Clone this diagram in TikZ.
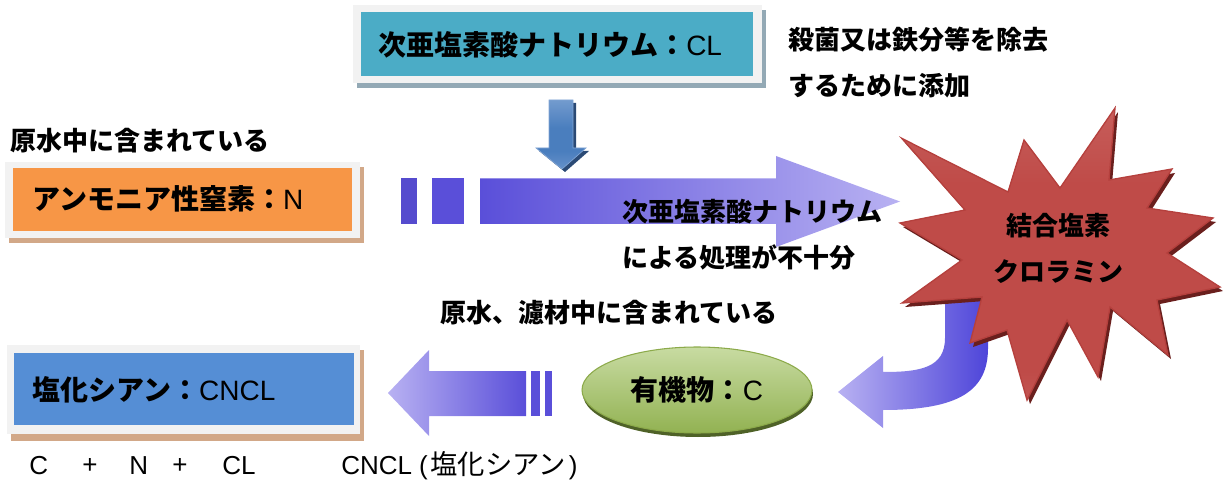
\documentclass[tikz,border=0pt]{standalone}
\usepackage{fontspec}
\setmainfont{Liberation Sans}
\newfontfamily\jp{Noto Sans CJK JP}
\usetikzlibrary{shapes.geometric}
\definecolor{frameC}{HTML}{F2F2F2}
\definecolor{tealC}{HTML}{4BACC6}
\definecolor{orangeC}{HTML}{F79646}
\definecolor{blueC}{HTML}{558ED5}
\definecolor{shadowA}{HTML}{93A9B5}
\definecolor{shadowB}{HTML}{D2A888}
\definecolor{vioD}{HTML}{5A4FD9}
\definecolor{vioL}{HTML}{B8B1F2}
\definecolor{vioM}{HTML}{4E45D9}
\definecolor{dnTop}{HTML}{A6BFE2}
\definecolor{dnMid}{HTML}{4A7EBE}
\definecolor{dnBot}{HTML}{9AB5DE}
\definecolor{dnShadow}{HTML}{2B4A75}
\definecolor{starTop}{HTML}{D6817E}
\definecolor{starMid}{HTML}{BF4B48}
\definecolor{starBot}{HTML}{D48582}
\definecolor{starEdge}{HTML}{B5403D}
\definecolor{starShadow}{HTML}{6A1F1D}
\definecolor{grTop}{HTML}{C8DBA2}
\definecolor{grBot}{HTML}{92B252}
\definecolor{grEdge}{HTML}{8CAA4A}
\definecolor{grShadow}{HTML}{4F6228}
\pgfdeclareverticalshading{starshade}{100bp}{color(0bp)=(starBot); color(30bp)=(starMid); color(62bp)=(starMid); color(100bp)=(starTop)}
\pgfdeclareverticalshading{downshade}{100bp}{color(0bp)=(dnBot); color(38bp)=(dnMid); color(55bp)=(dnMid); color(100bp)=(dnTop)}
\newcommand\jb[1]{{\jp\bfseries #1}}
\newcommand\jr[1]{{\jp #1}}
\newcommand\fsBox{\fontsize{21}{25}\selectfont}
\newcommand\fsLbl{\fontsize{19.5}{24}\selectfont}
\tikzset{
  lbl/.style={inner sep=0pt, anchor=west, font=\fsLbl},
  boxlbl/.style={inner sep=0pt, anchor=west, font=\fsBox},
}
\begin{document}
\begin{tikzpicture}[x=0.75pt,y=-0.75pt]
\useasboundingbox (0,0) rectangle (1223,484);

% ---- top box
\fill[shadowA] (357,10) rectangle (766,88);
\fill[frameC] (353,5) rectangle (762,83);
\fill[tealC] (361,12) rectangle (753,76);
\node[boxlbl] (topt) at (378,45) {\jb{次亜塩素酸ナトリウム：}CL};

\node[lbl] (purp1) at (788,40) {\jb{殺菌又は鉄分等を除去}};
\node[lbl] (purp2) at (788,86) {\jb{するために添加}};

% ---- down arrow
\fill[dnShadow] (552,103) -- (576,103) -- (576,151) -- (589,151) -- (565,172) -- (539,151) -- (552,151) -- cycle;
\shade[shading=downshade, draw=dnTop!60!dnMid, line width=0.5pt]
  (549,100) -- (573,100) -- (573,148) -- (586,148) -- (562,169) -- (536,148) -- (549,148) -- cycle;

% ---- left label + orange box
\node[lbl] (raw1) at (10,141) {\jb{原水中に含まれている}};
\fill[shadowB] (9,167) rectangle (364,243);
\fill[frameC] (5,162) rectangle (360,238);
\fill[orangeC] (13,168) rectangle (352,231);
\node[boxlbl] (ammo) at (32,199) {\jb{アンモニア性窒素：}N};

% ---- big right arrow
\fill[vioD!95!black] (401,178.5) rectangle (416.5,224);
\fill[vioD] (432,178.5) rectangle (464,224);
\shade[left color=vioD, right color=vioL]
  (480,178.5) -- (776,178.5) -- (776,156) -- (900,201.5) -- (776,247) -- (776,224) -- (480,224) -- cycle;
\node[lbl] (mid1) at (622,212) {\jb{次亜塩素酸ナトリウム}};
\node[lbl] (mid2) at (622,257) {\jb{による処理が不十分}};

% ---- J arrow
\shade[left color=vioL, right color=vioM]
  (945,300) -- (945,338) .. controls (945,368) and (920,372) .. (883,372) -- (883,356) -- (838,392)
  -- (883,428) -- (883,410) .. controls (960,410) and (988,390) .. (988,348) -- (988,300) -- cycle;

% ---- star
\fill[starShadow] ([shift={(3,4)}]901.7,138.3) -- ([shift={(3,4)}]1008,192) -- ([shift={(3,4)}]1024,140)
  -- ([shift={(3,4)}]1060,188) -- ([shift={(3,4)}]1115,108) -- ([shift={(3,4)}]1109,180)
  -- ([shift={(3,4)}]1172,169) -- ([shift={(3,4)}]1147,208) -- ([shift={(3,4)}]1213,218)
  -- ([shift={(3,4)}]1167,253) -- ([shift={(3,4)}]1220,287) -- ([shift={(3,4)}]1157,300)
  -- ([shift={(3,4)}]1168,355) -- ([shift={(3,4)}]1110,307) -- ([shift={(3,4)}]1098,377)
  -- ([shift={(3,4)}]1067,320) -- ([shift={(3,4)}]1027,400) -- ([shift={(3,4)}]1007,330)
  -- ([shift={(3,4)}]970,343) -- ([shift={(3,4)}]982,297) -- ([shift={(3,4)}]902,303)
  -- ([shift={(3,4)}]962,260) -- ([shift={(3,4)}]900,223) -- ([shift={(3,4)}]965,210) -- cycle;
\shade[shading=starshade, draw=starEdge, line width=1pt]
  (901.7,138.3) -- (1008,192) -- (1024,140) -- (1060,188) -- (1115,108) -- (1109,180)
  -- (1172,169) -- (1147,208) -- (1213,218) -- (1167,253) -- (1220,287) -- (1157,300)
  -- (1168,355) -- (1110,307) -- (1098,377) -- (1067,320) -- (1027,400) -- (1007,330)
  -- (970,343) -- (982,297) -- (902,303) -- (962,260) -- (900,223) -- (965,210) -- cycle;
\node[inner sep=0pt, align=center, font=\fontsize{19.5}{34.5}\selectfont] (chlor) at (1058,248)
  {\jb{結合塩素}\\\jb{クロラミン}};

% ---- lower label
\node[lbl] (raw2) at (440,313) {\jb{原水、濾材中に含まれている}};

% ---- organic ellipse
\fill[grShadow] (698,394) ellipse [x radius=115, y radius=43];
\node[ellipse, minimum width=172.5pt, minimum height=64.5pt, inner sep=0pt,
  top color=grTop, bottom color=grBot, draw=grEdge, line width=0.8pt, font=\fsBox] (org) at (697,390)
  {\jb{有機物：}C};

% ---- left arrow
\fill[vioD] (531,371) rectangle (540,416);
\fill[vioD] (545,371) rectangle (552,416);
\shade[left color=vioL, right color=vioD]
  (388,393) -- (429,350) -- (429,371) -- (526,371) -- (526,416) -- (429,416) -- (429,436) -- cycle;

% ---- blue box
\fill[shadowB] (11,350) rectangle (364,441);
\fill[frameC] (7,345) rectangle (360,434);
\fill[blueC] (14,353) rectangle (354,425);
\node[boxlbl] (cncl) at (32,390) {\jb{塩化シアン：}CNCL};

% ---- bottom formula
\node[lbl] (fc) at (29,466) {C};
\node[lbl] (fp1) at (82,466) {+};
\node[lbl] (fn) at (129,466) {N};
\node[lbl] (fp2) at (172,466) {+};
\node[lbl] (fcl) at (222,466) {CL};
\node[lbl] (fres) at (341,466) {CNCL (\hspace{2pt}{\fontsize{20.5}{26}\selectfont\jr{塩化シアン}}\hspace{2pt})};
\end{tikzpicture}
\end{document}
